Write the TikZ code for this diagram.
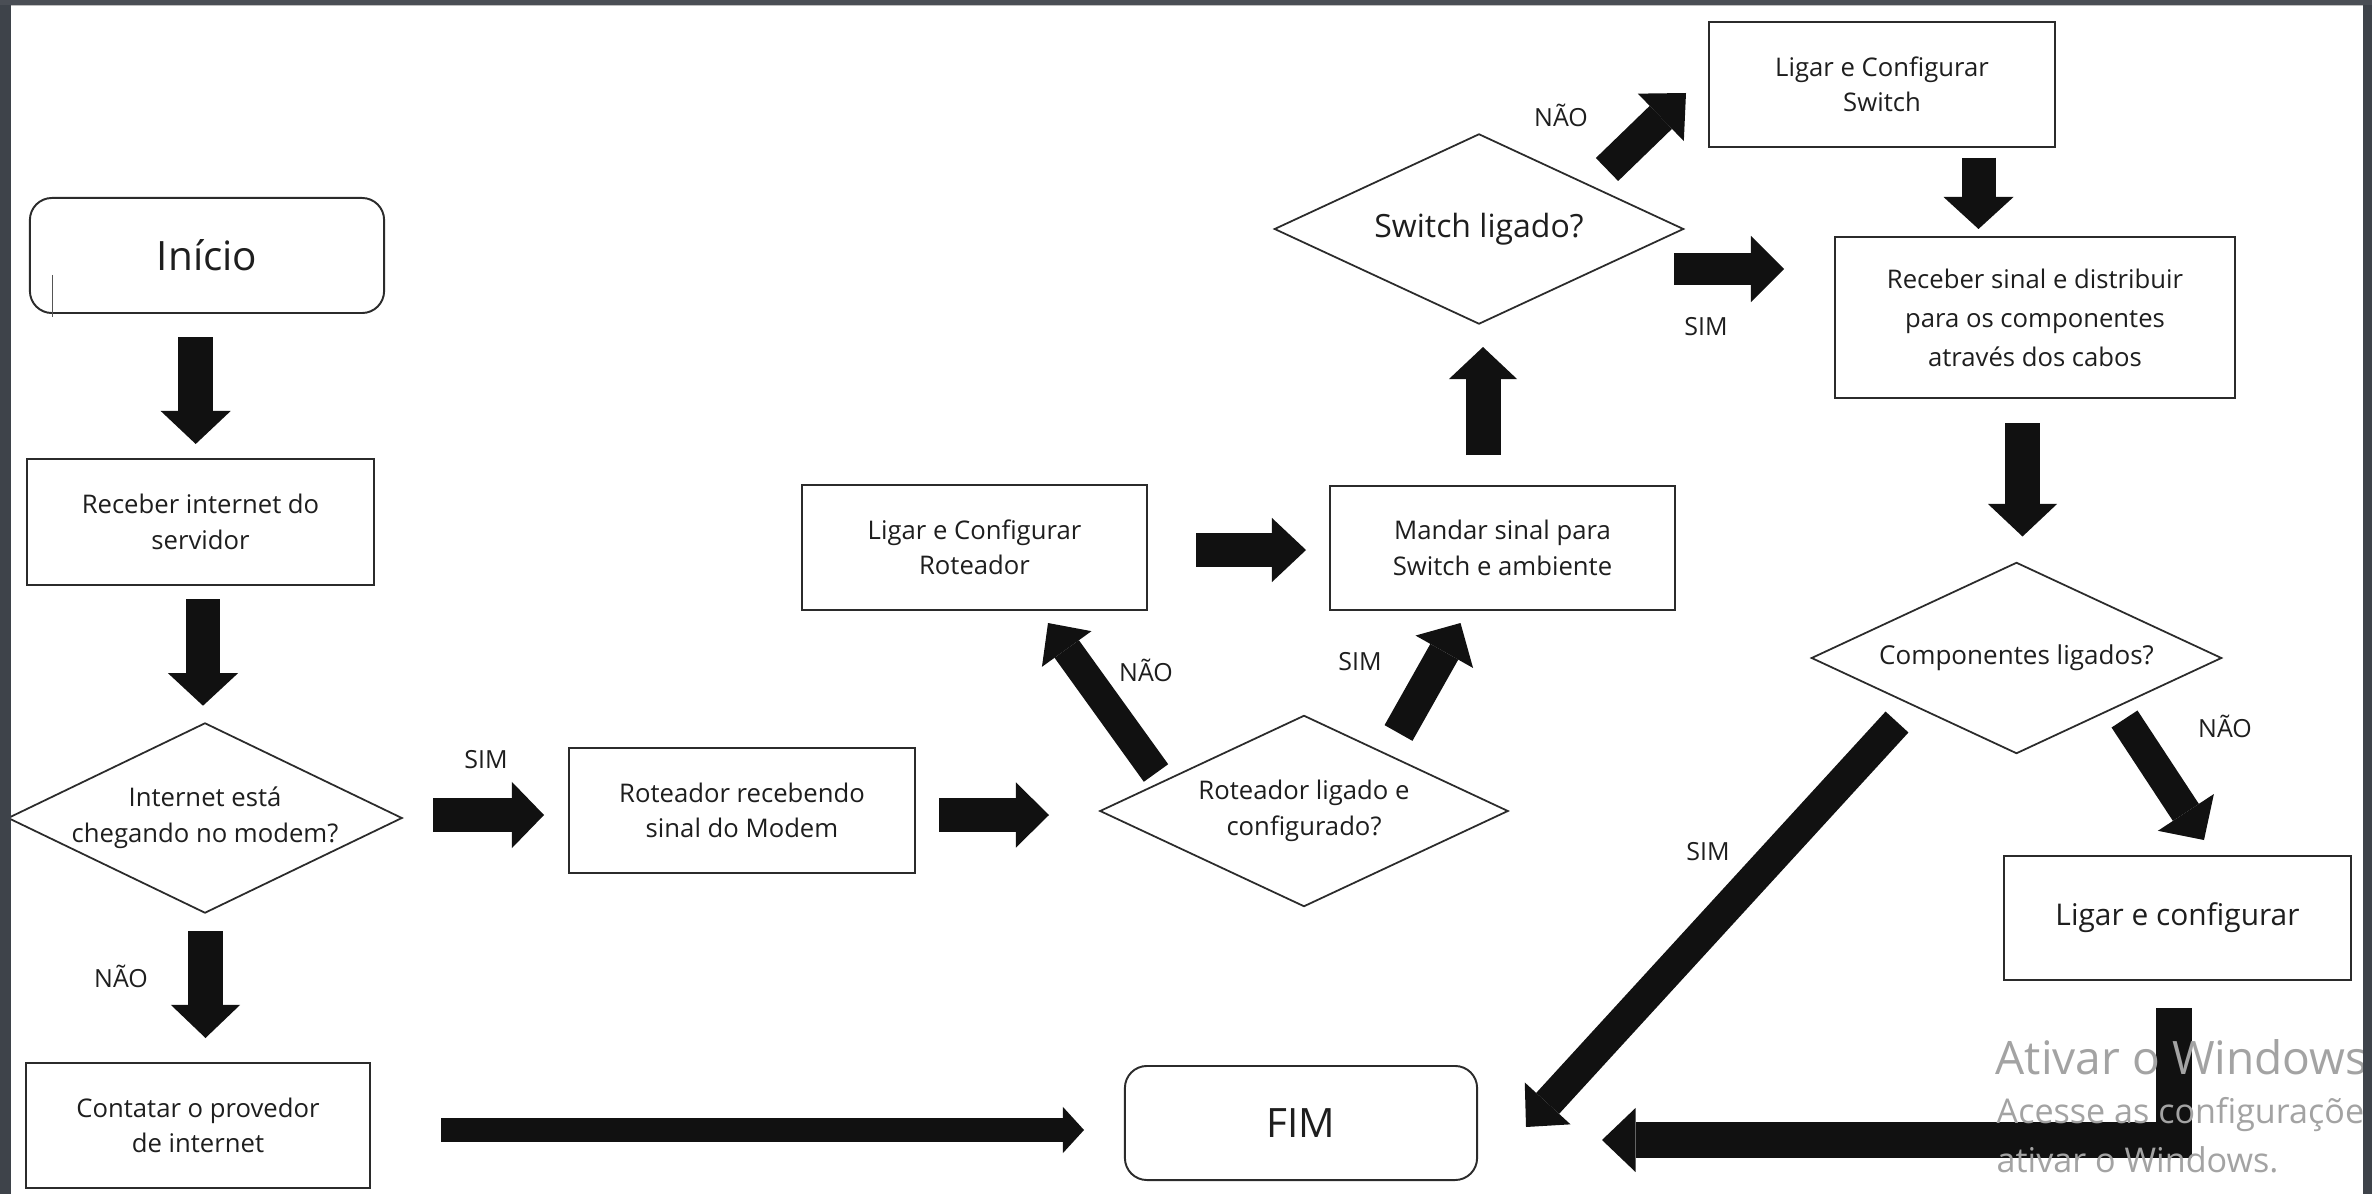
\documentclass[tikz,border=0pt]{standalone}
\usepackage{fontspec}
\setmainfont{Open Sans}
\usetikzlibrary{arrows.meta}
\definecolor{arrowcol}{HTML}{111111}
\definecolor{linecol}{HTML}{2B2B2B}
\definecolor{txtcol}{HTML}{1E1E1E}
\definecolor{framecol}{HTML}{3E434A}
\definecolor{topcol}{HTML}{4A4E55}
\definecolor{wmcol}{HTML}{A3A3A3}
\begin{document}
\begin{tikzpicture}[x=0.01cm,y=-0.01cm,
  box/.style={draw=linecol, line width=0.55pt, rectangle, align=center, text=txtcol, inner sep=0pt, font=\fontsize{7.3pt}{10.1pt}\selectfont},
  term/.style={box, rounded corners=0.22cm, font=\fontsize{11.5pt}{13pt}\selectfont},
  decision/.style={rectangle, inner sep=0pt, align=center, text=txtcol, font=\fontsize{7.3pt}{10.1pt}\selectfont},
  dborder/.style={draw=linecol, line width=0.5pt, line join=miter},
  lbl/.style={text=txtcol, inner sep=0pt, font=\fontsize{7.1pt}{8pt}\selectfont},
  blk/.style n args={3}{draw=arrowcol, line width=#1, -{Triangle[width=#2,length=#3,line width=0pt]}},
  wm/.style={text=wmcol, inner sep=0pt, anchor=base west},
]
\useasboundingbox (0,0) rectangle (2372,1194);
\fill[white] (0,0) rectangle (2372,1194);

% ---------- process boxes ----------
\node[term, minimum width=3.54cm, minimum height=1.15cm] (start) at (207,255.5) {Início};
\node[box, minimum width=3.47cm, minimum height=1.26cm] (recv) at (200.5,522) {Receber internet do\\servidor};
\node[box, minimum width=3.44cm, minimum height=1.25cm] (contact) at (198,1125.5) {Contatar o provedor\\de internet};
\node[box, minimum width=3.46cm, minimum height=1.25cm] (rrecv) at (742,810.5) {Roteador recebendo\\sinal do Modem};
\node[box, minimum width=3.45cm, minimum height=1.25cm] (cfgr) at (974.5,547.5) {Ligar e Configurar\\Roteador};
\node[box, minimum width=3.45cm, minimum height=1.24cm] (send) at (1502.5,548) {Mandar sinal para\\Switch e ambiente};
\node[box, minimum width=3.46cm, minimum height=1.25cm] (cfgs) at (1882,84.5) {Ligar e Configurar\\Switch};
\node[box, minimum width=4.00cm, minimum height=1.61cm, font=\fontsize{7.3pt}{11.1pt}\selectfont] (dist) at (2035,317.5) {Receber sinal e distribuir\\para os componentes\\através dos cabos};
\node[box, minimum width=3.47cm, minimum height=1.24cm, font=\fontsize{8.5pt}{10pt}\selectfont] (cfgc) at (2177.5,918) {Ligar e configurar};
\node[term, minimum width=3.52cm, minimum height=1.14cm] (fim) at (1301,1123) {FIM};

% text cursor inside the start box
\coordinate (cur1) at (52.5,275);
\coordinate (cur2) at (52.5,317);
\draw[linecol!80, line width=0.3pt] (cur1) -- (cur2);

% ---------- decisions ----------
\node[decision, minimum width=3.92cm, minimum height=1.88cm] (d1) at (205,818) {Internet está\\chegando no modem?};
\node[decision, minimum width=4.06cm, minimum height=1.89cm] (d2) at (1304,811) {Roteador ligado e\\configurado?};
\node[decision, minimum width=4.07cm, minimum height=1.88cm, font=\fontsize{9.1pt}{11pt}\selectfont] (d3) at (1479,229) {Switch ligado?};
\node[decision, minimum width=4.08cm, minimum height=1.89cm, font=\fontsize{7.4pt}{10pt}\selectfont] (d4) at (2016.5,658) {Componentes ligados?};
\foreach \d in {d1,d2,d3,d4}
  \draw[dborder] (\d.west) -- (\d.north) -- (\d.east) -- (\d.south) -- cycle;

% ---------- block arrows ----------
\coordinate (a1s) at (195.7,337);   \coordinate (a1e) at (195.7,444);
\coordinate (a2s) at (203,599);     \coordinate (a2e) at (203,705.7);
\coordinate (a3s) at (205.5,931);   \coordinate (a3e) at (205.5,1038);
\coordinate (a4s) at (433,815);     \coordinate (a4e) at (544,815);
\coordinate (a5s) at (939,815);     \coordinate (a5e) at (1049,815);
\coordinate (a6s) at (1156,773);    \coordinate (a6e) at (1048,623);
\coordinate (a7s) at (1196,550);    \coordinate (a7e) at (1306,550);
\coordinate (a8s) at (1398.5,733);  \coordinate (a8e) at (1460.5,623);
\coordinate (a9s) at (1483,455);    \coordinate (a9e) at (1483,347);
\coordinate (a10s) at (1607,169.5); \coordinate (a10e) at (1686,93);
\coordinate (a11s) at (1674,269);   \coordinate (a11e) at (1784,269);
\coordinate (a12s) at (1978.5,157.7); \coordinate (a12e) at (1978.5,229);
\coordinate (a13s) at (2022.5,423); \coordinate (a13e) at (2022.5,536.5);
\coordinate (a14s) at (2124.5,719); \coordinate (a14e) at (2204,840);
\coordinate (a15s) at (1897,722);   \coordinate (a15e) at (1526,1127);
\coordinate (a16s) at (2174,1008);  \coordinate (a16e) at (1602,1140);
\coordinate (a17s) at (441,1130);   \coordinate (a17e) at (1084,1130);

\draw[blk={0.344cm}{0.70cm}{0.33cm}] (a1s) -- (a1e);
\draw[blk={0.345cm}{0.70cm}{0.325cm}] (a2s) -- (a2e);
\draw[blk={0.344cm}{0.69cm}{0.33cm}] (a3s) -- (a3e);
\draw[blk={0.34cm}{0.66cm}{0.32cm}] (a4s) -- (a4e);
\draw[blk={0.34cm}{0.65cm}{0.33cm}] (a5s) -- (a5e);
\draw[blk={0.30cm}{0.61cm}{0.32cm}] (a6s) -- (a6e);
\draw[blk={0.33cm}{0.64cm}{0.34cm}] (a7s) -- (a7e);
\draw[blk={0.32cm}{0.66cm}{0.33cm}] (a8s) -- (a8e);
\draw[blk={0.35cm}{0.68cm}{0.32cm}] (a9s) -- (a9e);
\draw[blk={0.32cm}{0.66cm}{0.35cm}] (a10s) -- (a10e);
\draw[blk={0.32cm}{0.66cm}{0.33cm}] (a11s) -- (a11e);
\draw[blk={0.34cm}{0.70cm}{0.32cm}] (a12s) -- (a12e);
\draw[blk={0.35cm}{0.69cm}{0.325cm}] (a13s) -- (a13e);
\draw[blk={0.31cm}{0.67cm}{0.33cm}] (a14s) -- (a14e);
\draw[blk={0.31cm}{0.62cm}{0.32cm}] (a15s) -- (a15e);
\draw[blk={0.36cm}{0.64cm}{0.335cm}, line join=miter] (a16s) |- (a16e);
\draw[blk={0.24cm}{0.46cm}{0.21cm}] (a17s) -- (a17e);

% ---------- labels ----------
\node[lbl] (lsim1) at (486,760) {SIM};
\node[lbl] (lnao1) at (121,976) {NÃO};
\node[lbl] (lnao2) at (1146,670) {NÃO};
\node[lbl] (lsim2) at (1360,662) {SIM};
\node[lbl] (lnao3) at (1561,115) {NÃO};
\node[lbl] (lsim3) at (1706,327) {SIM};
\node[lbl] (lnao4) at (2225,726) {NÃO};
\node[lbl] (lsim4) at (1708,852) {SIM};

% ---------- Windows watermark ----------
\node[wm, font=\fontsize{13.1pt}{14pt}\selectfont] (wm1) at (1995,1074) {Ativar o Windows};
\node[wm, font=\fontsize{9.7pt}{11pt}\selectfont] (wm2) at (1996,1123) {Acesse as configurações};
\node[wm, font=\fontsize{9.7pt}{11pt}\selectfont] (wm3) at (1996,1172) {ativar o Windows.};

% ---------- screen frame ----------
\fill[framecol] (0,0) rectangle (11,1194);
\fill[framecol] (2363,0) rectangle (2372,1194);
\fill[topcol] (0,0) rectangle (2372,5);
\fill[black!25] (11,5) rectangle (2363,6.5);
\end{tikzpicture}
\end{document}
